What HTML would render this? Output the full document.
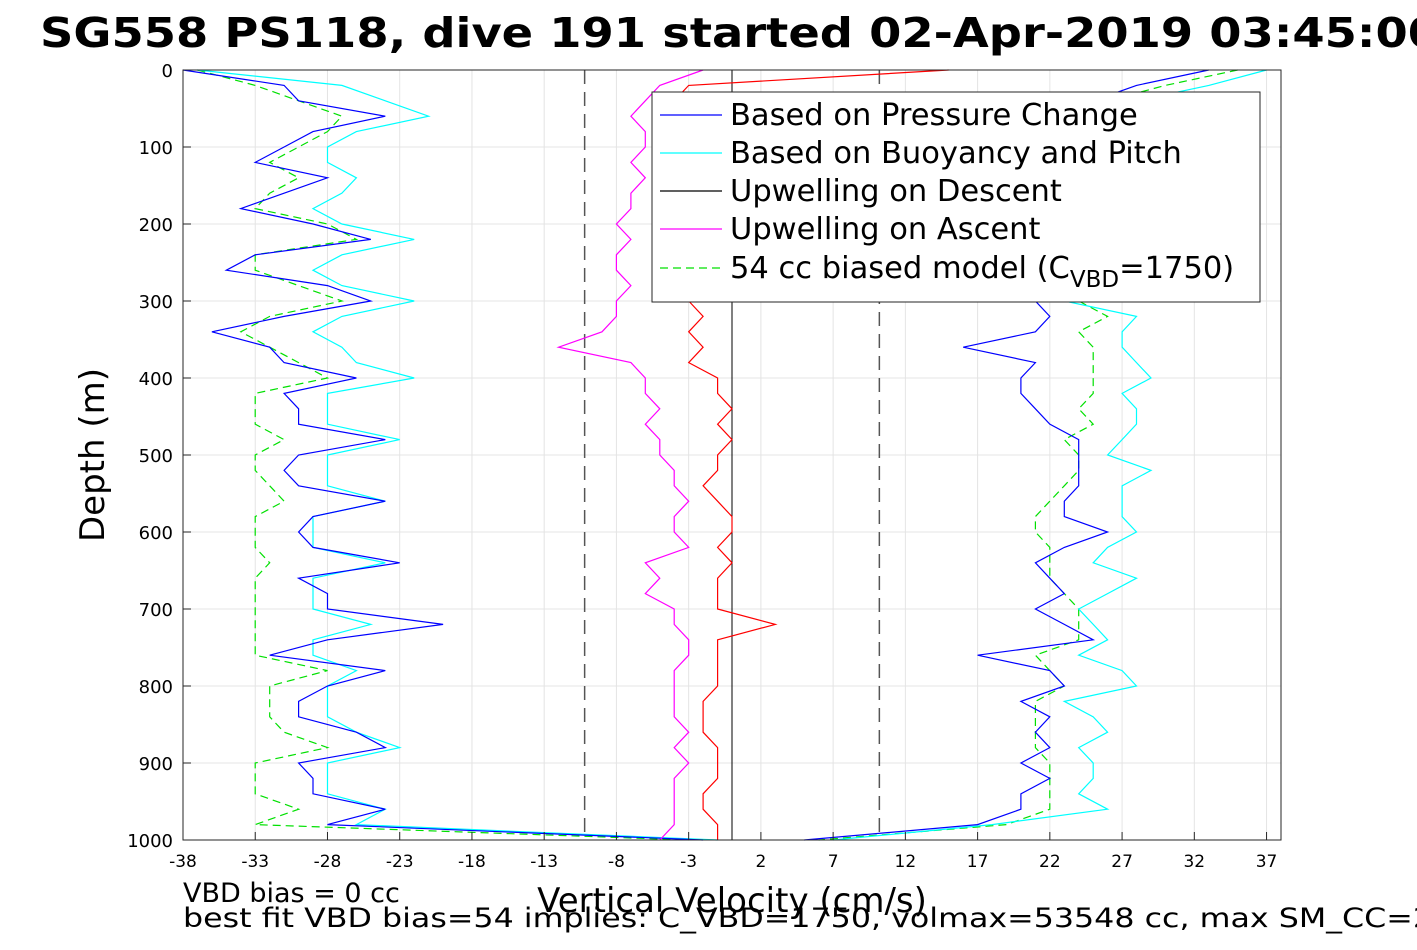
<!DOCTYPE html>
<html><head><meta charset="utf-8"><style>
body{margin:0;background:#fff;width:1417px;height:945px;overflow:hidden;font-family:"Liberation Sans","DejaVu Sans",sans-serif}
</style></head><body>
<svg id="c" width="1417" height="945" xmlns="http://www.w3.org/2000/svg" font-family="DejaVu Sans, Liberation Sans, sans-serif">
<text x="40" y="47" font-size="41" font-weight="bold" textLength="1400" lengthAdjust="spacingAndGlyphs">SG558 PS118, dive 191 started 02-Apr-2019 03:45:00</text>
<rect x="183" y="70" width="1098" height="770" fill="#fff"/>
<g id="grid"></g><g id="series"></g><g id="axes"></g>
<g id="legend"></g>
<text transform="translate(104,455) rotate(-90)" text-anchor="middle" font-size="34">Depth (m)</text>
<text x="732" y="912" text-anchor="middle" font-size="34">Vertical Velocity (cm/s)</text>
<text x="183" y="902" font-size="27">VBD bias = 0 cc</text>
<text x="183" y="927" font-size="27" textLength="1250" lengthAdjust="spacingAndGlyphs">best fit VBD bias=54 implies: C_VBD=1750, volmax=53548 cc, max SM_CC=2</text>
</svg>
<script>
const depths=[0,20,40,60,80,100,120,140,160,180,200,220,240,260,280,300,320,340,360,380,400,420,440,460,480,500,520,540,560,580,600,620,640,660,680,700,720,740,760,780,800,820,840,860,880,900,920,940,960,980,1000];
const xTicks=[-38,-33,-28,-23,-18,-13,-8,-3,2,7,12,17,22,27,32,37];
const yTicks=[0,100,200,300,400,500,600,700,800,900,1000];
const descBlue=[-38,-31,-30,-24,-29,-31,-33,-28,-31,-34,-29,-25,-33,-35,-28,-25,-31,-36,-32,-31,-26,-31,-30,-30,-24,-30,-31,-30,-24,-29,-30,-29,-23,-30,-28,-28,-20,-28,-32,-24,-28,-30,-30,-26,-24,-30,-29,-29,-24,-28,-2];
const descCyan=[-37,-27,-24,-21,-26,-28,-28,-26,-27,-29,-27,-22,-27,-29,-27,-22,-27,-29,-27,-26,-22,-28,-28,-28,-23,-28,-28,-28,-24,-29,-29,-29,-24,-29,-29,-29,-25,-29,-29,-26,-28,-28,-28,-26,-23,-28,-28,-28,-24,-26,-1];
const descGreen=[-37,-33,-30,-27,-28,-30,-32,-30,-32,-33,-28,-26,-33,-33,-30,-27,-32,-34,-32,-30,-28,-33,-33,-33,-31,-33,-33,-32,-31,-33,-33,-33,-32,-33,-33,-33,-33,-33,-33,-28,-32,-32,-32,-31,-28,-33,-33,-33,-30,-33,-3];
const ascBlue=[33,28,25,24,25,24,23,24,25,24,23,24,25,24,23,21,22,21,16,21,20,20,21,22,24,24,24,24,23,23,26,23,21,22,23,21,23,25,17,22,23,20,22,21,22,20,22,20,20,17,5];
const ascCyan=[37,33,28,27,28,27,26,27,28,27,26,27,28,27,26,23,28,27,27,28,29,27,28,28,27,26,29,27,27,27,28,26,25,28,26,24,25,26,24,27,28,23,25,26,24,25,25,24,26,18,7];
const ascGreen=[35,30,26,25,26,25,24,25,26,25,24,25,26,25,24,24,26,24,25,25,25,25,24,25,23,24,24,23,22,21,21,22,22,22,23,24,24,24,21,22,23,21,21,21,21,22,22,22,22,19,6];
const upDesc=[15,-3,-4,-3,-5,-4,-3,-2,-3,-4,-3,-4,-3,-5,-4,-3,-2,-3,-2,-3,-1,-1,0,-1,0,-1,-1,-2,-1,0,0,-1,0,-1,-1,-1,3,-1,-1,-1,-1,-2,-2,-2,-1,-1,-1,-2,-2,-1,-1];
const upAsc=[-2,-5,-6,-7,-6,-6,-7,-6,-7,-7,-8,-7,-8,-8,-7,-8,-8,-9,-12,-7,-6,-6,-5,-6,-5,-5,-4,-4,-3,-4,-4,-3,-6,-5,-6,-4,-4,-3,-3,-4,-4,-4,-4,-3,-4,-3,-4,-4,-4,-4,-5];
const X0=183,X1=1281,Y0=70,Y1=840;
const xs=v=>X0+(v+38)/76*(X1-X0);
const ys=d=>Y0+d/1000*(Y1-Y0);
const NS="http://www.w3.org/2000/svg";
function mk(tag,attrs,parent){const e=document.createElementNS(NS,tag);for(const k in attrs)e.setAttribute(k,attrs[k]);parent.appendChild(e);return e;}
const grid=document.getElementById('grid'),axes=document.getElementById('axes'),ser=document.getElementById('series'),leg=document.getElementById('legend');
xTicks.forEach(t=>{const l=mk('line',{x1:xs(t),x2:xs(t),y1:Y0,y2:Y1,stroke:'#e4e4e4','stroke-width':1},grid);


const tx=mk('text',{x:xs(t),y:Y1+27,'text-anchor':'middle','font-size':17},axes);tx.textContent=t;


mk('line',{x1:xs(t),x2:xs(t),y1:Y1,y2:Y1-8,stroke:'#262626'},axes);});
yTicks.forEach(t=>{const l=mk('line',{x1:X0,x2:X1,y1:ys(t),y2:ys(t),stroke:'#e4e4e4','stroke-width':1},grid);


const tx=mk('text',{x:X0-10,y:ys(t)+7,'text-anchor':'end','font-size':18},axes);tx.textContent=t;


mk('line',{x1:X0,x2:X0+8,y1:ys(t),y2:ys(t),stroke:'#262626'},axes);});
[[-10.2,'dashed-line-left'],[10.2,'dashed-line-right']].forEach(([v,n])=>{const l=mk('line',{x1:xs(v),x2:xs(v),y1:Y0,y2:Y1,stroke:'#555','stroke-width':1.5,'stroke-dasharray':'14,8'},grid);

});
const z=mk('line',{x1:xs(0),x2:xs(0),y1:Y0,y2:Y1,stroke:'#000','stroke-width':1},grid);


function path(vals,color,dash,name){const d=vals.map((v,i)=>(i?'L':'M')+xs(v).toFixed(1)+','+ys(depths[i]).toFixed(1)).join('');
const p=mk('path',{d:d,fill:'none',stroke:color,'stroke-width':1.2},ser);if(dash)p.setAttribute('stroke-dasharray',dash);

}
path(descGreen,'#00e000','8,5','model-descent');
path(ascGreen,'#00e000','8,5','model-ascent');
path(descCyan,'#00ffff',null,'buoyancy-descent');
path(ascCyan,'#00ffff',null,'buoyancy-ascent');
path(descBlue,'#0000ff',null,'pressure-descent');
path(ascBlue,'#0000ff',null,'pressure-ascent');
path(upDesc,'#ff0000',null,'upwelling-descent');
path(upAsc,'#ff00ff',null,'upwelling-ascent');
const box=mk('rect',{x:X0,y:Y0,width:X1-X0,height:Y1-Y0,fill:'none',stroke:'#262626','stroke-width':1},axes);


mk('rect',{x:652,y:92,width:608,height:210,fill:'#fff',stroke:'#262626','stroke-width':1},leg);
const names=['Based on Pressure Change','Based on Buoyancy and Pitch','Upwelling on Descent','Upwelling on Ascent'];
const cols=['#0000ff','#00ffff','#000000','#ff00ff','#00e000'];
const ly=[115,153,191,229,268];
for(let i=0;i<5;i++){const g=mk('g',{},leg);


const ln=mk('line',{x1:660,x2:722,y1:ly[i],y2:ly[i],stroke:cols[i],'stroke-width':1.2},g);if(i==4)ln.setAttribute('stroke-dasharray','8,5');
const t=mk('text',{x:730,y:ly[i]+10,'font-size':30.5},g);
if(i<4)t.textContent=names[i];else t.innerHTML='54 cc biased model (C<tspan dy="9" font-size="23">VBD</tspan><tspan dy="-9">=1750)</tspan>';}
</script>
</body></html>
